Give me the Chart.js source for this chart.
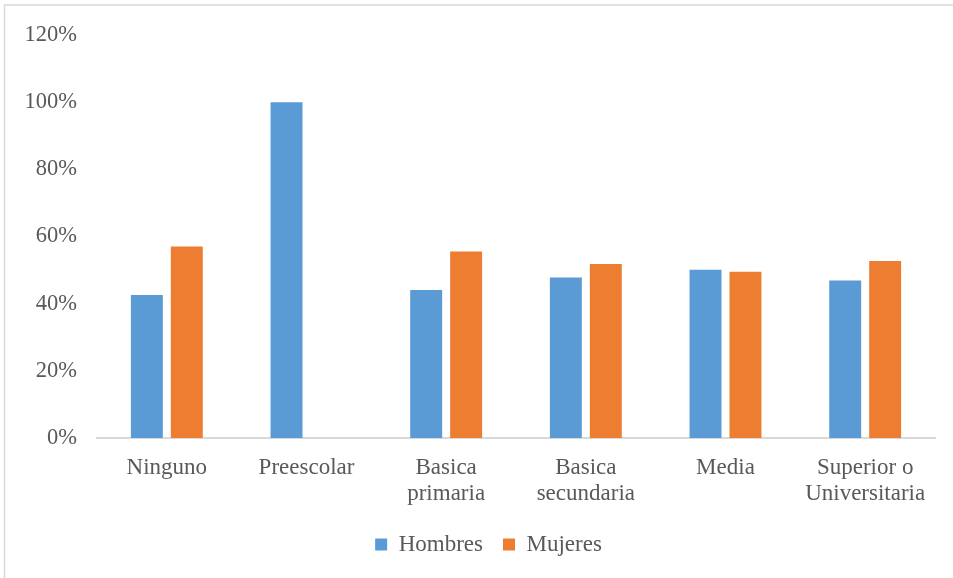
<!DOCTYPE html>
<html>
<head>
<meta charset="utf-8">
<script src="https://cdn.jsdelivr.net/npm/chart.js@4"></script>
<style>
  html, body { margin: 0; padding: 0; background: #ffffff; }
  #wrap { position: relative; width: 953px; height: 578px; }
  canvas { display: block; }
</style>
</head>
<body>
<div id="wrap"><canvas id="chart" width="953" height="578"></canvas></div>
<script>
// Nivel educativo por sexo (porcentaje)
const categories = [
  'Ninguno',
  'Preescolar',
  ['Basica', 'primaria'],
  ['Basica', 'secundaria'],
  'Media',
  ['Superior o', 'Universitaria']
];
const hombres = [42.6, 100, 44.1, 47.8, 50.1, 46.9];
const mujeres = [57.0, 0, 55.5, 51.8, 49.5, 52.7];
const yTicks = [0, 20, 40, 60, 80, 100, 120];

const textColor = '#595959';
const fontFamily = '"Liberation Serif", "Times New Roman", serif';

// Thin frame along the top and left edges of the canvas
const framePlugin = {
  id: 'frame',
  beforeDraw(chart) {
    const ctx = chart.ctx;
    ctx.save();
    ctx.strokeStyle = '#d9d9d9';
    ctx.lineWidth = 1.5;
    ctx.beginPath();
    ctx.moveTo(4.5, chart.height);
    ctx.lineTo(4.5, 5);
    ctx.lineTo(chart.width, 5);
    ctx.stroke();
    ctx.restore();
  }
};

// Nudge the bottom legend a little to the right of the canvas centre
const legendShift = {
  id: 'legendShift',
  afterLayout(chart) {
    if (chart.legend) {
      chart.legend.left += 21;
      chart.legend.right += 21;
    }
  }
};

new Chart(document.getElementById('chart'), {
  type: 'bar',
  data: {
    labels: categories,
    datasets: [
      { label: 'Hombres', data: hombres, backgroundColor: '#5B9BD5' },
      { label: 'Mujeres', data: mujeres, backgroundColor: '#ED7D31' }
    ]
  },
  plugins: [framePlugin, legendShift],
  options: {
    responsive: false,
    animation: false,
    devicePixelRatio: 1,
    categoryPercentage: 0.572,
    barPercentage: 0.8,
    layout: { padding: { top: 35, right: 18, bottom: 12, left: 0 } },
    plugins: {
      tooltip: { enabled: false },
      legend: {
        position: 'bottom',
        labels: {
          color: textColor,
          font: { family: fontFamily, size: 23 },
          boxWidth: 12,
          boxHeight: 12,
          padding: 20
        }
      }
    },
    scales: {
      x: {
        grid: { display: false, drawTicks: false },
        border: { display: true, color: '#d9d9d9', width: 2 },
        ticks: {
          color: textColor,
          font: { family: fontFamily, size: 23, lineHeight: 1.13 },
          padding: 17,
          maxRotation: 0,
          autoSkip: false
        },
        afterFit(scale) { scale.height = 75; }
      },
      y: {
        min: 0,
        max: 120,
        afterBuildTicks(scale) { scale.ticks = yTicks.map(v => ({ value: v })); },
        grid: { display: false, drawTicks: false },
        border: { display: false },
        ticks: {
          color: textColor,
          font: { family: fontFamily, size: 22.5 },
          padding: 20,
          callback: v => v + '%'
        },
        afterFit(scale) { scale.width = 97; }
      }
    }
  }
});
</script>
</body>
</html>
